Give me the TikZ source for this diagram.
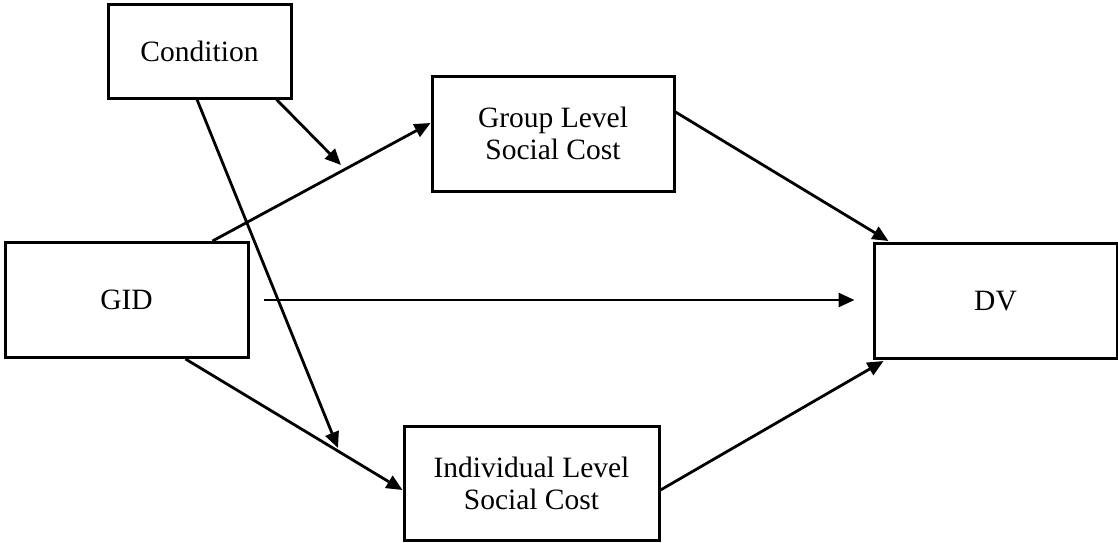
\documentclass[tikz,border=0pt]{standalone}
\usepackage{fontspec}
\setmainfont{Liberation Serif}
\usetikzlibrary{arrows.meta,calc}
\begin{document}
\begin{tikzpicture}[x=1pt,y=-1pt,
  box/.style={draw=black,line width=3pt,rectangle,align=center,inner sep=0pt,
    font=\fontsize{29.5}{32}\selectfont},
  arr/.style={line width=2.8pt,-{Triangle[length=16pt,width=14pt]}},
  ln/.style={line width=2.8pt}]
\useasboundingbox (0,0) rectangle (1118,542);
\node[box,minimum width=183pt,minimum height=94pt] (cond) at (199.5,51) {Condition};
\node[box,minimum width=242pt,minimum height=115pt] (grp) at (553,133.5) {Group Level\\Social Cost};
\node[box,minimum width=243pt,minimum height=115pt] (gid) at (126.5,300) {GID};
\node[box,minimum width=243pt,minimum height=115pt] (dv) at (995.5,301) {DV};
\node[box,minimum width=255pt,minimum height=114pt] (ind) at (531.5,483) {Individual Level\\Social Cost};
\coordinate (m1) at (341,165);
\coordinate (m2) at (338,448);
% GID -> Group
\draw[arr] ($(gid.north east)+(-37,0)$) -- ($(grp.west)+(0,-10.5)$);
% GID -> DV
\draw[arr] ($(gid.east)+(14,0)$) -- ($(dv.west)+(-18,-1)$);
% GID -> Individual
\draw[arr] ($(gid.south east)+(-64,0)$) -- ($(ind.west)+(0,7)$);
% Condition -> Individual path
\draw[arr] ($(cond.south)+(-2.5,0)$) -- (m2);
% Condition -> GID-Group path
\draw[arr] ($(cond.south east)+(-16,0)$) -- (m1);
% Group -> DV
\draw[arr] ($(grp.east)+(0,-21.5)$) -- ($(dv.north west)+(16,-1)$);
% Individual -> DV
\draw[arr] ($(ind.east)+(0,7)$) -- ($(dv.south west)+(11,1)$);
\end{tikzpicture}
\end{document}
